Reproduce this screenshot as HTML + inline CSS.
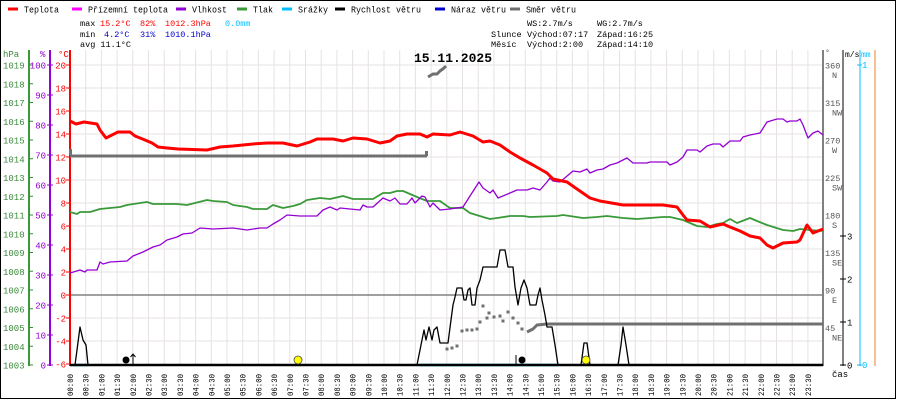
<!DOCTYPE html>
<html><head><meta charset="utf-8"><style>
body{margin:0;background:#fff;width:900px;height:400px;overflow:hidden}
svg{display:block;font-family:"Liberation Mono","DejaVu Sans Mono",monospace}
</style></head><body>
<svg id="s" width="900" height="400" xmlns="http://www.w3.org/2000/svg"></svg>
<script>
const S=document.getElementById('s');let h='';
const X0=70,DX=15.7;
h+='<rect x="0.5" y="0.5" width="895" height="398" fill="#fff" stroke="#000"/>';
for(let k=1;k<48;k++){const x=X0+k*DX;h+=`<line x1="${x}" y1="50" x2="${x}" y2="365" stroke="#e6e2e2"/>`;}
for(let t=20;t>=-4;t-=2){const y=295-11.5*t;h+=`<line x1="70" y1="${y}" x2="823" y2="${y}" stroke="${t==0?'#808080':'#e6e2e2'}" stroke-width="${t==0?1.5:1}"/>`;}
h+='<line x1="29" y1="50" x2="29" y2="366" stroke="#3a9a3a" stroke-width="2"/><line x1="50" y1="50" x2="50" y2="366" stroke="#9400d3" stroke-width="2"/><line x1="70" y1="50" x2="70" y2="366" stroke="#ff0000" stroke-width="2"/>';
h+='<text x="3" y="57" font-size="9" fill="#3a8a3a">hPa</text><text x="40" y="57" font-size="9" fill="#9400d3">%</text><text x="58" y="57" font-size="9" fill="#f00">°C</text>';
for(let p=1019;p>=1003;p--){const y=65+(1019-p)*18.75;h+=`<text x="3" y="${y+3.5}" font-size="9" fill="#3a8a3a">${p}</text><line x1="29" y1="${y}" x2="33" y2="${y}" stroke="#3a8a3a"/>`;}
for(let v=100;v>=0;v-=10){const y=365-v*3;h+=`<text x="46" y="${y+3.5}" font-size="9" fill="#9400d3" text-anchor="end">${v}</text><line x1="47" y1="${y}" x2="53" y2="${y}" stroke="#9400d3"/>`;}
for(let t=20;t>=-6;t-=2){const y=295-11.5*t;h+=`<text x="66" y="${y+3.5}" font-size="9" fill="#f00" text-anchor="end">${t}</text><line x1="66" y1="${y}" x2="70" y2="${y}" stroke="#f00"/>`;}
h+='<line x1="823" y1="50" x2="823" y2="366" stroke="#808080" stroke-width="2"/><line x1="843" y1="50" x2="843" y2="366" stroke="#000"/><line x1="860" y1="50" x2="860" y2="366" stroke="#00bfff"/><line x1="875" y1="50" x2="875" y2="366" stroke="#f08020"/>';
h+='<text x="825" y="55" font-size="8" fill="#555">°</text><text x="845" y="57" font-size="8">m/s</text><text x="861" y="57" font-size="8" fill="#00bfff">mm</text>';
const dl=['N','NW','W','SW','S','SE','E','NE'];
for(let i=0;i<8;i++){const d=360-45*i,y=65+37.5*i;h+=`<text x="825" y="${y+3.5}" font-size="8.5" fill="#555">${d}</text><text x="832" y="${y+13}" font-size="8.5" fill="#555">${dl[i]}</text>`;}
for(let v=0;v<=3;v++){const y=365-43*v;h+=`<line x1="840" y1="${y}" x2="846" y2="${y}" stroke="#000"/><text x="847" y="${y+3.5}" font-size="9">${v}</text>`;}
h+='<line x1="857" y1="65" x2="862" y2="65" stroke="#00bfff"/><text x="862" y="68" font-size="9" fill="#00bfff">1</text><line x1="857" y1="365" x2="862" y2="365" stroke="#00bfff"/><text x="862" y="368" font-size="9" fill="#00bfff">0</text>';
h+='<text x="832" y="377" font-size="9">čas</text>';
for(let k=0;k<48;k++){const x=X0+k*DX;const hh=String(Math.floor(k/2)).padStart(2,'0')+':'+(k%2?'30':'00');h+=`<text transform="translate(${x+3},396) rotate(-90)" font-size="8.5" textLength="22" lengthAdjust="spacingAndGlyphs">${hh}</text>`;}
const L=[['#f00',8,'Teplota',35],['#f0f',72,'Přízemní teplota',80],['#9400d3',176,'Vlhkost',35],['#3a9a3a',237,'Tlak',20],['#00bfff',282,'Srážky',30],['#000',335,'Rychlost větru',70],['#0000cd',435,'Náraz větru',55],['#707070',510,'Směr větru',50]];
L.forEach(l=>{h+=`<line x1="${l[1]}" y1="9" x2="${l[1]+10}" y2="9" stroke="${l[0]}" stroke-width="3"/><text x="${l[1]+16}" y="12.5" font-size="9" textLength="${l[3]}" lengthAdjust="spacingAndGlyphs">${l[2]}</text>`;});
h+='<text y="26" font-size="8.5"><tspan x="80">max</tspan><tspan x="100" fill="#f00">15.2°C</tspan><tspan x="140" fill="#f00">82%</tspan><tspan x="165" fill="#f00">1012.3hPa</tspan><tspan x="225" fill="#00bfff">0.0mm</tspan></text>';
h+='<text y="37" font-size="8.5"><tspan x="80">min</tspan><tspan x="104" fill="#00c">4.2°C</tspan><tspan x="140" fill="#00c">31%</tspan><tspan x="165" fill="#00c">1010.1hPa</tspan></text>';
h+='<text y="47" font-size="8.5"><tspan x="80">avg 11.1°C</tspan></text>';
h+='<text y="26" font-size="8.5"><tspan x="527">WS:2.7m/s</tspan><tspan x="597">WG:2.7m/s</tspan></text>';
h+='<text y="37" font-size="8.5"><tspan x="491">Slunce</tspan><tspan x="527">Východ:07:17</tspan><tspan x="597">Západ:16:25</tspan></text>';
h+='<text y="47" font-size="8.5"><tspan x="491">Měsíc</tspan><tspan x="527">Východ:2:00</tspan><tspan x="597">Západ:14:10</tspan></text>';
h+='<text x="414" y="62" font-size="13" font-weight="bold">15.11.2025</text>';
function pl(pts,c,w){h+=`<polyline points="${pts}" fill="none" stroke="${c}" stroke-width="${w}" stroke-linejoin="round"/>`;}
pl('70,212 77,214 80,212 90,212 100,209 110,208 120,207 127,205 140,203 147,202 153,204 167,204 177,204 187,205 207,200 213,201 227,202 233,205 247,207 253,209 267,209 273,205 283,208 293,206 300,204 307,200 320,198 330,199 343,196 353,199 373,199 383,193 390,193 397,191 403,191 410,194 417,197 427,201 440,201 447,206 450,208 463,208 470,213 483,217 490,219 497,218 510,216 523,216 530,217 557,216 563,215 583,218 597,217 607,216 623,218 637,219 650,218 663,217 670,217 683,220 697,226 707,227 717,224 723,223 730,219 737,223 750,218 757,221 767,225 783,230 793,231 800,229 810,230 823,231','#3a9a3a',1.8);
pl('70,273 80,270 85,272 87,270 97,270 100,262 103,264 110,262 127,261 133,256 143,252 153,247 160,245 167,240 177,237 183,234 192,233 200,228 213,229 233,228 247,230 260,228 267,228 273,224 280,220 287,215 300,216 317,216 323,210 330,207 337,210 340,208 360,210 363,205 367,207 373,207 383,198 390,201 395,198 400,204 407,204 412,198 415,203 422,196 425,197 430,207 433,203 440,210 450,209 463,207 470,196 479,182 483,188 490,193 493,190 498,198 510,193 517,190 527,190 533,188 540,190 547,182 550,178 553,181 560,182 573,171 580,172 587,169 590,173 597,170 603,169 610,165 617,163 627,158 633,163 647,163 650,162 667,162 670,165 677,162 683,157 687,150 697,150 700,152 707,146 713,144 720,144 723,147 730,141 740,141 743,137 750,135 760,133 767,122 777,119 783,119 787,122 790,121 797,121 800,119 803,125 808,138 813,133 818,131 823,135','#9400d3',1.3);
pl('70,121 76,124 84,122 97,124 100,130 106,138 112,135 118,132 130,132 135,136 145,140 152,143 158,147 167,148 178,149 207,150 220,147 233,146 253,144 267,143 283,143 297,146 310,142 317,139 333,139 343,141 353,138 367,139 380,143 390,141 397,136 407,134 420,134 427,137 433,134 450,135 460,132 473,136 483,142 490,141 500,145 510,152 520,158 533,165 547,173 553,179 567,182 577,189 590,198 600,201 623,205 663,205 677,207 683,215 687,220 700,221 710,227 723,224 730,227 740,231 750,236 760,238 767,245 773,248 783,243 797,242 800,240 807,225 813,233 823,229','#f00',3);
h+='<rect x="69" y="149" width="3" height="6" fill="#707070"/>';
pl('70,156 427,156','#707070',3);h+='<rect x="425" y="151" width="3" height="5" fill="#707070"/>';
pl('428,77 433,74 437,74 440,71 444,68 446,66','#707070',3);
pl('823,324 547,324 537,325 533,329 527,332','#707070',3);
[[447,349],[452,348],[457,346],[462,331],[467,330],[472,330],[477,329],[480,322],[483,306],[487,318],[489,313],[494,317],[500,316],[503,321],[508,312],[513,318],[518,323],[522,329]].forEach(p=>{h+=`<rect x="${p[0]-1.5}" y="${p[1]-1.5}" width="3" height="3" fill="#707070"/>`;});
pl('75,365 88,365','#00bfff',2.5);pl('420,365 558,365','#00bfff',2.5);
pl('70,365 75,365 77,350 80,327 83,340 86,345 88,365 417,365 421,345 424,330 426,340 429,327 432,340 434,330 437,327 440,343 448,343 451,320 453,305 455,297 457,288 462,288 464,300 466,300 468,290 470,288 472,305 475,305 477,288 480,280 483,267 497,267 500,250 505,250 508,267 513,267 515,287 518,305 521,288 524,280 527,288 530,305 536,305 538,295 540,288 542,300 545,315 547,327 552,327 555,345 558,365 581,365 584,343 587,343 590,365 618,365 621,345 623,327 626,345 629,365 823,365','#000',1.3);
pl('70,365 823,365','#000',2.5);
h+='<circle cx="126" cy="360" r="3.5" fill="#000"/><line x1="133" y1="365" x2="133" y2="355" stroke="#000"/><path d="M130.5,357 L133,354 L135.5,357" fill="none" stroke="#000"/>';
h+='<circle cx="298" cy="360" r="4" fill="#ff0" stroke="#444" stroke-width="0.8"/>';
h+='<circle cx="522" cy="360" r="3.5" fill="#000"/><line x1="516" y1="355" x2="516" y2="365" stroke="#000"/>';
h+='<circle cx="586" cy="360" r="4" fill="#ff0" stroke="#444" stroke-width="0.8"/>';
S.innerHTML=h;
</script>
</body></html>
